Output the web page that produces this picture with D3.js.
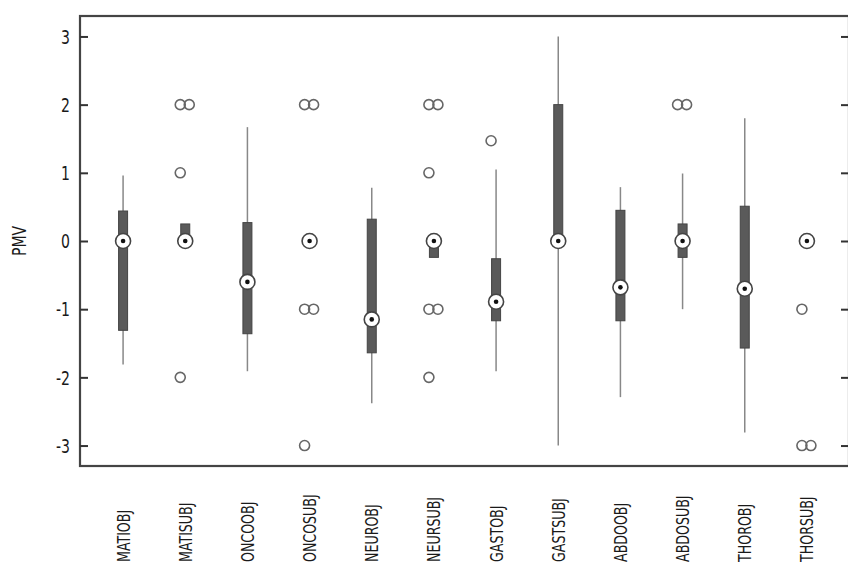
<!DOCTYPE html>
<html>
<head>
<meta charset="utf-8">
<script src="https://cdn.jsdelivr.net/npm/d3@7"></script>
<style>
  body { margin: 0; background: #fff; }
  text { font-family: "Liberation Sans Narrow", "DejaVu Sans Condensed", "Roboto Condensed", sans-serif; font-stretch: condensed; fill: #1a1a1a; }
</style>
</head>
<body>
<svg id="chart" width="848" height="563"></svg>
<script>
// groups along the x axis
const categories = ["MATIOBJ", "MATISUBJ", "ONCOOBJ", "ONCOSUBJ", "NEUROBJ", "NEURSUBJ",
                    "GASTOBJ", "GASTSUBJ", "ABDOOBJ", "ABDOSUBJ", "THOROBJ", "THORSUBJ"];

// box statistics per group (null = no whisker drawn)
const whiskerLow  = [-1.81, null, -1.91, null, -2.38, null, -1.91, -3.0, -2.29, -1.0, -2.81, null];
const q1          = [-1.31, 0,    -1.36, 0,    -1.64, -0.24, -1.17, 0,   -1.17, -0.24, -1.57, 0];
const medians     = [0,     0,    -0.60, 0,    -1.15, 0,    -0.89, 0,    -0.68, 0,    -0.70, 0];
const q3          = [0.44,  0.25, 0.27,  0,    0.32,  0,    -0.26, 2.0,  0.45,  0.25, 0.51,  0];
const whiskerHigh = [0.96,  null, 1.67,  null, 0.78,  null, 1.05,  3.0,  0.79,  0.99, 1.80,  null];

// outlier values per group, repeated values listed twice
const outliers = [
  [],
  [2, 2, 1, -2],
  [],
  [2, 2, -1, -1, -3],
  [],
  [2, 2, 1, -1, -1, -2],
  [1.47],
  [],
  [],
  [2, 2],
  [],
  [-1, -3, -3]
];

const yTicks = [-3, -2, -1, 0, 1, 2, 3];

const svg = d3.select("#chart");
const plot = { left: 80, right: 849, top: 16, bottom: 466 };
const SQUEEZE = 0.78; // condensed look for the labels

const x = d3.scaleBand()
    .domain(categories)
    .range([92, 838]);

const y = d3.scaleLinear()
    .domain([-3.3, 3.3])
    .range([plot.bottom, plot.top]);

const cx = c => x(c) + x.bandwidth() / 2;

// frame
svg.append("rect")
    .attr("x", plot.left)
    .attr("y", plot.top)
    .attr("width", plot.right - plot.left)
    .attr("height", plot.bottom - plot.top)
    .attr("fill", "none")
    .attr("stroke", "#444")
    .attr("stroke-width", 2.2);

// left axis, ticks pointing inward
const yAxis = svg.append("g")
    .attr("transform", `translate(${plot.left},0)`)
    .call(d3.axisRight(y).tickValues(yTicks).tickSize(8).tickFormat(""));
yAxis.select(".domain").remove();
yAxis.selectAll("line").attr("stroke", "#333").attr("stroke-width", 2);

svg.append("g")
    .selectAll("text")
    .data(yTicks)
    .enter()
    .append("text")
    .attr("transform", d => `translate(${plot.left - 10},${y(d)}) scale(${SQUEEZE},1)`)
    .attr("dy", "0.36em")
    .attr("text-anchor", "end")
    .style("font-size", "20px")
    .text(d => d);

// right axis ticks
const yAxisR = svg.append("g")
    .attr("transform", `translate(${plot.right - 1},0)`)
    .call(d3.axisLeft(y).tickValues(yTicks).tickSize(7).tickFormat(""));
yAxisR.select(".domain").remove();
yAxisR.selectAll("line").attr("stroke", "#333").attr("stroke-width", 2);

// y title
svg.append("text")
    .attr("transform", `translate(19,${y(0)}) rotate(-90) scale(${SQUEEZE},1)`)
    .attr("dy", "0.36em")
    .attr("text-anchor", "middle")
    .style("font-size", "20px")
    .text("PMV");

// category labels
svg.append("g")
    .selectAll("text")
    .data(categories)
    .enter()
    .append("text")
    .attr("transform", d => `translate(${cx(d)},562) rotate(-90) scale(${SQUEEZE},1)`)
    .attr("dy", "0.36em")
    .attr("text-anchor", "start")
    .style("font-size", "18px")
    .text(d => d);

const groups = svg.append("g")
    .selectAll("g")
    .data(categories)
    .enter()
    .append("g");

// whiskers
groups.filter((d, i) => whiskerLow[i] !== null)
    .append("line")
    .attr("x1", d => cx(d))
    .attr("x2", d => cx(d))
    .attr("y1", d => y(whiskerLow[categories.indexOf(d)]))
    .attr("y2", d => y(whiskerHigh[categories.indexOf(d)]))
    .attr("stroke", "#888")
    .attr("stroke-width", 1.5);

// boxes
const boxW = 9;
groups.append("rect")
    .attr("x", d => cx(d) - boxW / 2)
    .attr("y", (d, i) => y(q3[i]))
    .attr("width", boxW)
    .attr("height", (d, i) => y(q1[i]) - y(q3[i]))
    .attr("fill", "#5a5a5a")
    .attr("stroke", "#444")
    .attr("stroke-width", 1);

// outliers: repeated values sit side by side
groups.each(function (d, i) {
    const seen = {};
    const g = d3.select(this);
    outliers[i].forEach(v => {
        const n = outliers[i].filter(w => w === v).length;
        seen[v] = (seen[v] || 0) + 1;
        const off = n === 1 ? -5 : (seen[v] === 1 ? -5 : 4);
        g.append("circle")
            .attr("cx", cx(d) + off)
            .attr("cy", y(v))
            .attr("r", 5)
            .attr("fill", "none")
            .attr("stroke", "#666")
            .attr("stroke-width", 1.6);
    });
});

// median markers
groups.append("circle")
    .attr("cx", d => cx(d))
    .attr("cy", (d, i) => y(medians[i]))
    .attr("r", 7.5)
    .attr("fill", "#fff")
    .attr("stroke", "#444")
    .attr("stroke-width", 1.6);

groups.append("circle")
    .attr("cx", d => cx(d))
    .attr("cy", (d, i) => y(medians[i]))
    .attr("r", 2.3)
    .attr("fill", "#111");
</script>
</body>
</html>
